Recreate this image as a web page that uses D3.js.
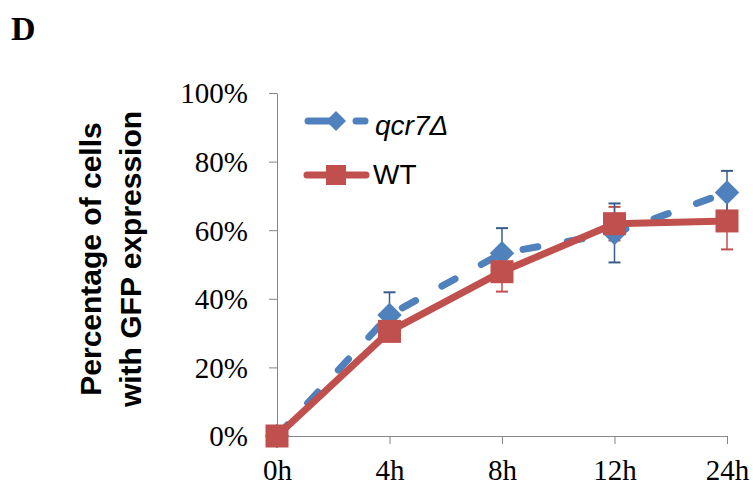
<!DOCTYPE html>
<html><head><meta charset="utf-8">
<script src="https://cdn.jsdelivr.net/npm/d3@7"></script>
<style>body{margin:0;background:#fff}svg{display:block}</style>
</head><body>
<script>
const categories = ["0h","4h","8h","12h","24h"];
const qcr7Values = [0, 0.353, 0.533, 0.592, 0.710];
const qcr7Errors = [0, 0.066, 0.073, 0.086, 0.063];
const wtValues = [0, 0.305, 0.479, 0.619, 0.627];
const wtErrors = [0, 0, 0.058, 0.049, 0.083];
const yTicks = [0, 0.2, 0.4, 0.6, 0.8, 1.0];
const seriesNames = ["qcr7Δ", "WT"];

const W = 753, H = 488;
const svg = d3.select("body").append("svg").attr("width", W).attr("height", H);
const x = d3.scalePoint().domain(categories).range([277, 727]);
const y = d3.scaleLinear().domain([0, 1]).range([436, 93]);
const axisColor = "#868686";
const blue = "#4F81BD", red = "#C0504D", blueDark = "#385D8A";

// panel letter
svg.append("text").attr("x", 11).attr("y", 40).text("D")
  .attr("font-family", "Liberation Serif").attr("font-weight", "bold").attr("font-size", 34);

// y axis
const yAxis = d3.axisLeft(y).tickValues(yTicks).tickSize(8).tickSizeOuter(0)
  .tickFormat(d3.format(".0%"));
const gy = svg.append("g").attr("transform", "translate(277,0)").call(yAxis);
gy.select(".domain").attr("stroke", axisColor);
gy.selectAll(".tick line").attr("stroke", axisColor);
gy.selectAll(".tick text").attr("font-family", "Liberation Serif").attr("font-size", 29)
  .attr("fill", "#000").attr("x", -29).attr("dy", "0.34em");

// x axis
const xAxis = d3.axisBottom(x).tickSize(8).tickSizeOuter(0);
const gx = svg.append("g").attr("transform", "translate(0,436)").call(xAxis);
gx.select(".domain").attr("stroke", axisColor);
gx.selectAll(".tick line").attr("stroke", axisColor);
gx.selectAll(".tick text").attr("font-family", "Liberation Serif").attr("font-size", 29)
  .attr("fill", "#000").attr("y", 44).attr("dy", 0);

// y title
const yt = svg.append("text").attr("transform", "translate(101,259) rotate(-90)")
  .attr("text-anchor", "middle").attr("font-family", "Liberation Sans")
  .attr("font-weight", "bold").attr("font-size", 30);
yt.append("tspan").attr("x", 0).attr("y", 0).text("Percentage of cells");
yt.append("tspan").attr("x", 0).attr("y", 40).text("with GFP expression");

const plot = svg.append("g");
function errBars(vals, errs, color) {
  categories.forEach((c, i) => {
    if (!errs[i]) return;
    const cx = x(c), y1 = y(vals[i] + errs[i]), y2 = y(vals[i] - errs[i]);
    plot.append("line").attr("x1", cx).attr("x2", cx).attr("y1", y1).attr("y2", y2)
      .attr("stroke", color).attr("stroke-width", 1.5);
    [y1, y2].forEach(yy => plot.append("line").attr("x1", cx - 6).attr("x2", cx + 6)
      .attr("y1", yy).attr("y2", yy).attr("stroke", color).attr("stroke-width", 2));
  });
}
errBars(wtValues, wtErrors, red);
errBars(qcr7Values, qcr7Errors, blueDark);

const line = d3.line().x((d, i) => x(categories[i])).y(d => y(d));
// blue dashed line
plot.append("path").datum(qcr7Values).attr("d", line).attr("fill", "none")
  .attr("stroke", blue).attr("stroke-width", 7).attr("stroke-linecap", "round")
  .attr("stroke-dasharray", "15,30");
const diamond = d3.symbol().type(d3.symbolDiamond2).size(300);
plot.selectAll(".dia").data(qcr7Values).join("path")
  .attr("transform", (d, i) => `translate(${x(categories[i])},${y(d)}) rotate(45)`)
  .attr("d", d3.symbol().type(d3.symbolSquare).size(300)).attr("fill", blue);
// red line
plot.append("path").datum(wtValues).attr("d", line).attr("fill", "none")
  .attr("stroke", red).attr("stroke-width", 7).attr("stroke-linejoin", "round");
plot.selectAll(".sq").data(wtValues).join("rect")
  .attr("x", (d, i) => x(categories[i]) - 11.5).attr("y", d => y(d) - 11.5)
  .attr("width", 23).attr("height", 23).attr("fill", red);

// legend
const lg = svg.append("g");
lg.append("line").attr("x1", 308).attr("x2", 336).attr("y1", 121).attr("y2", 121)
  .attr("stroke", blue).attr("stroke-width", 7).attr("stroke-linecap", "round");
lg.append("line").attr("x1", 356).attr("x2", 365).attr("y1", 121).attr("y2", 121)
  .attr("stroke", blue).attr("stroke-width", 7).attr("stroke-linecap", "round");
lg.append("path").attr("transform", "translate(336,121) rotate(45)")
  .attr("d", d3.symbol().type(d3.symbolSquare).size(200)).attr("fill", blue);
lg.append("text").attr("x", 375).attr("y", 135).text(seriesNames[0])
  .attr("font-family", "Liberation Sans").attr("font-style", "italic").attr("font-size", 28);
lg.append("line").attr("x1", 307).attr("x2", 366).attr("y1", 175).attr("y2", 175)
  .attr("stroke", red).attr("stroke-width", 7).attr("stroke-linecap", "round");
lg.append("rect").attr("x", 326).attr("y", 165).attr("width", 20).attr("height", 20).attr("fill", red);
lg.append("text").attr("x", 373).attr("y", 184).text(seriesNames[1])
  .attr("font-family", "Liberation Sans").attr("font-size", 28);
</script>
</body></html>
